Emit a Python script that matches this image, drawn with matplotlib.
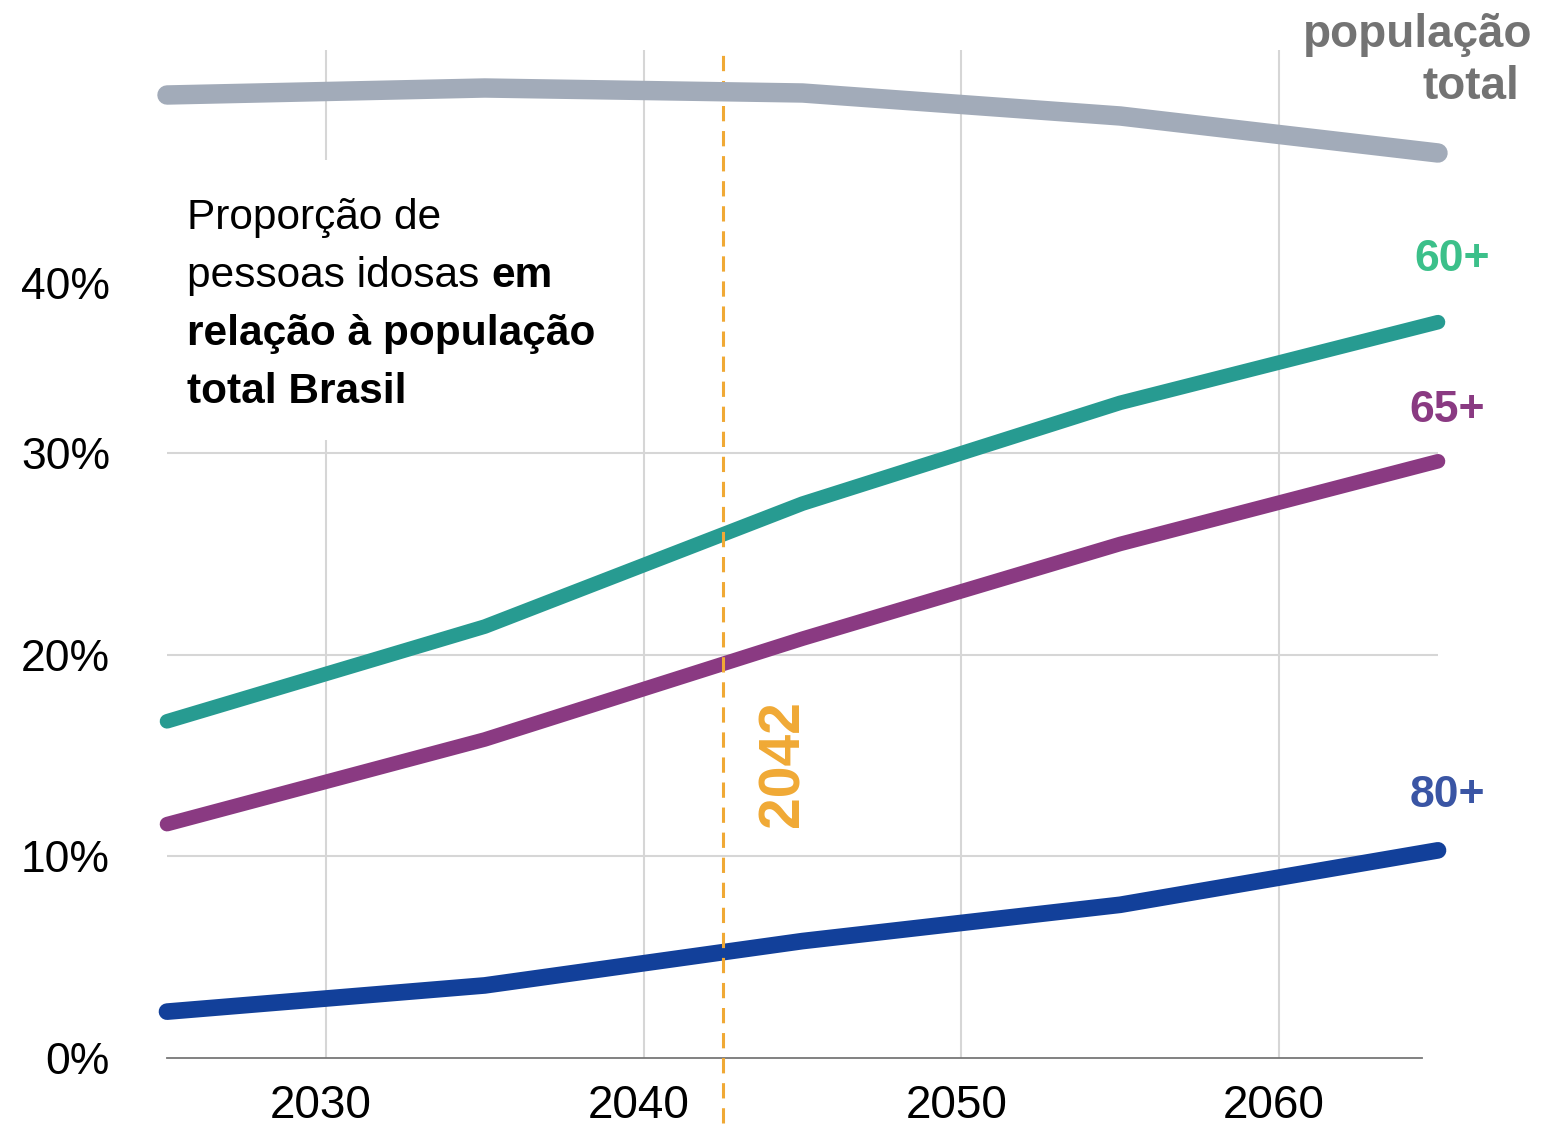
import numpy as np
import matplotlib.pyplot as plt
from matplotlib.patches import Rectangle
from matplotlib.transforms import ScaledTranslation

plt.rcParams['font.family'] = ['Liberation Sans', 'DejaVu Sans']

# anos da projecao
anos = [2025, 2035, 2045, 2055, 2065]
# proporcao (%) de pessoas idosas em relacao a populacao total
idosos_60 = [16.7, 21.4, 27.5, 32.5, 36.5]
idosos_65 = [11.6, 15.8, 20.8, 25.5, 29.6]
idosos_80 = [2.3, 3.6, 5.8, 7.6, 10.3]
# populacao total (milhoes), eixo proprio e escondido
pop_total = [213.0, 214.4, 213.4, 208.8, 201.4]

ano_marco = 2042
x_ticks = [2030, 2040, 2050, 2060]
y_ticks = [0, 10, 20, 30, 40]
y_ticklabels = ['0%', '10%', '20%', '30%', '40%']

cor_60 = '#279b91'
cor_65 = '#8a3a82'
cor_80 = '#12409a'
cor_pop = '#a2abb9'
cor_marco = '#f0a935'
cor_grid = '#d6d6d6'

W, H = 1544, 1131
fig = plt.figure(figsize=(W / 100, H / 100), dpi=100)
ax = fig.add_axes([167 / W, (H - 1058) / H, (1438 - 167) / W, (1058 - 50) / H])

ax.set_xlim(2025, 2065)
ax.set_ylim(0, 50)

# grades
for x in x_ticks:
    ax.axvline(x, color=cor_grid, lw=1.5, zorder=0.5)
for y in y_ticks[1:4]:
    ax.axhline(y, color=cor_grid, lw=1.5, zorder=0.5)

for s in ['top', 'right', 'left']:
    ax.spines[s].set_visible(False)
ax.spines['bottom'].set_color('#777777')
ax.spines['bottom'].set_linewidth(1.3)
ax.spines['bottom'].set_bounds(2025, 2064.5)

ax.set_xticks(x_ticks)
ax.set_xticklabels([str(x) for x in x_ticks])
ax.set_yticks(y_ticks)
ax.set_yticklabels(y_ticklabels)
ax.tick_params(axis='x', length=0, pad=19, labelsize=33)
ax.tick_params(axis='y', length=0, pad=41, labelsize=32)
# rotulos do eixo x levemente a esquerda no original
for lbl in ax.get_xticklabels():
    lbl.set_transform(lbl.get_transform() + ScaledTranslation(-0.05, 0, fig.dpi_scale_trans))
# o rotulo de 40% aparece um pouco abaixo no original
lbl = ax.get_yticklabels()[-1]
lbl.set_transform(lbl.get_transform() + ScaledTranslation(0, -0.31, fig.dpi_scale_trans))

# caixa branca atras do texto
ax.add_patch(Rectangle((170 / W, 1 - 440 / H), 430 / W, 280 / H,
                       transform=fig.transFigure, facecolor='white',
                       edgecolor='none', zorder=1))

kw = dict(solid_capstyle='round', solid_joinstyle='round', zorder=3, clip_on=False)
ax.plot(anos, idosos_60, color=cor_60, lw=10.5, **kw)
ax.plot(anos, idosos_65, color=cor_65, lw=10.5, **kw)
ax.plot(anos, idosos_80, color=cor_80, lw=12, **kw)

# linha do ano marco (meio do ano)
ax.plot([ano_marco + 0.5, ano_marco + 0.5], [-3.2, 49.9], color=cor_marco,
        lw=2.2, ls=(0, (5, 3.2)), clip_on=False, zorder=4)
ax.text(ano_marco + 2.4, 14.6, str(ano_marco), rotation=90, color=cor_marco,
        fontsize=41, fontweight='bold', ha='center', va='center')

# rotulos das series
ax.text(2065.45, 39.6, '60+', color='#3cc08a', fontsize=32, fontweight='bold',
        ha='center', va='center')
ax.text(2065.3, 32.1, '65+', color=cor_65, fontsize=32, fontweight='bold',
        ha='center', va='center')
ax.text(2065.3, 13.0, '80+', color='#3a55a4', fontsize=32, fontweight='bold',
        ha='center', va='center')

# populacao total
ax2 = ax.twinx()
ax2.set_ylim(20.4, 222)
ax2.axis('off')
ax2.plot(anos, pop_total, color=cor_pop, lw=14, solid_capstyle='round',
         solid_joinstyle='round', clip_on=False)

fig.text(1532 / W, 1 - 35 / H, 'população', color='#737373', fontsize=33,
         fontweight='bold', ha='right', va='center')
fig.text(1519 / W, 1 - 87 / H, 'total', color='#737373', fontsize=33,
         fontweight='bold', ha='right', va='center')

# texto explicativo
x0 = 187 / W
fs = 30.5
fig.text(x0, 1 - 229 / H, 'Proporção de', fontsize=fs, va='baseline', zorder=5)
t2 = fig.text(x0, 1 - 287 / H, 'pessoas idosas ', fontsize=fs, va='baseline', zorder=5)
t_em = fig.text(x0, 1 - 287 / H, 'em', fontsize=fs, fontweight='bold',
                va='baseline', zorder=5)
fig.text(x0, 1 - 345 / H, 'relação à população', fontsize=fs,
         fontweight='bold', va='baseline', zorder=5)
fig.text(x0, 1 - 403 / H, 'total Brasil', fontsize=fs,
         fontweight='bold', va='baseline', zorder=5)

# posiciona "em" logo apos o texto normal
fig.canvas.draw()
bb = t2.get_window_extent()
t_em.set_position((bb.x1 / W, 1 - 287 / H))

fig.savefig('out.png', dpi=100)
